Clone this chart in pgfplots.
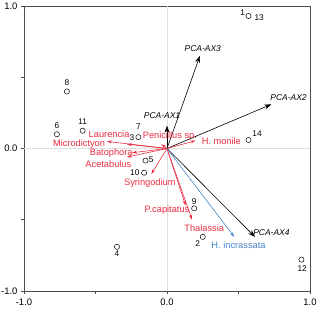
\documentclass[border=0pt]{standalone}
\usepackage{pgfplots}
\pgfplotsset{compat=1.18}
\usepackage{fontspec}
\setmainfont{Liberation Sans}
\usetikzlibrary{arrows.meta}
\definecolor{sred}{RGB}{232,45,65}
\definecolor{sblue}{RGB}{70,130,200}
\begin{document}
\begin{tikzpicture}
\useasboundingbox (-24bp,-19bp) rectangle (296bp,291bp);
\begin{axis}[
  at={(0,0)}, anchor=south west,
  scale only axis, width=286bp, height=285bp,
  xmin=-1, xmax=1, ymin=-1, ymax=1,
  xtick={-1,-0.5,0,0.5,1}, xticklabels={-1.0,,0.0,,1.0},
  ytick={-1,-0.5,0,0.5,1}, yticklabels={-1.0,,0.0,,1.0},
  tick align=outside, xtick pos=bottom, ytick pos=left,
  major tick length=3bp,
  tick style={gray!60!black, line width=0.6pt},
  axis line style={gray!60!black, line width=0.8pt},
  /pgf/number format/assume math mode=true,
  tick label style={font=\fontsize{9.5}{11}\selectfont},
  xticklabel style={yshift=-1bp},
  clip=false,
]
% zero lines
\addplot[gray!25, line width=0.5pt] coordinates {(0,-1) (0,1)};
\addplot[gray!25, line width=0.5pt] coordinates {(-1,0) (1,0)};

% black PCA arrows
\pgfplotsset{blk/.style={black, line width=0.6pt, -{Stealth[length=7bp,width=5bp]}}}
\addplot[blk] coordinates {(0,0) (0.23,0.65)};
\addplot[blk] coordinates {(0,0) (0.73,0.31)};
\addplot[blk] coordinates {(0,0) (0.0,0.16)};
\addplot[blk] coordinates {(0,0) (0.615,-0.62)};

% red species arrows
\pgfplotsset{rd/.style={sred, line width=0.6pt, -{Stealth[length=5bp,width=3bp]}}}
\addplot[rd] coordinates {(0,0) (-0.42,0.05)};
\addplot[rd] coordinates {(0,0) (-0.28,0.03)};
\addplot[rd] coordinates {(0,0) (-0.245,-0.03)};
\addplot[rd] coordinates {(0,0) (-0.28,-0.06)};
\addplot[rd] coordinates {(0,0) (-0.04,0.03)};
\addplot[rd] coordinates {(0,0) (0.20,0.055)};
\addplot[rd] coordinates {(0,0) (-0.11,-0.18)};
\addplot[rd] coordinates {(0,0) (0.13,-0.40)};
\addplot[rd] coordinates {(0,0) (0.175,-0.50)};
\addplot[sblue, line width=0.6pt, -{Stealth[length=5bp,width=3bp]}] coordinates {(0,0) (0.47,-0.62)};

% sample points
\addplot[only marks, mark=o, mark size=2.6bp, black, mark options={line width=0.5pt}] coordinates {
(0.57,0.93) (-0.70,0.40) (-0.77,0.10) (-0.59,0.125) (-0.20,0.08)
(0.57,0.06) (-0.15,-0.085) (-0.16,-0.17) (-0.35,-0.69) (0.19,-0.42)
(0.25,-0.62) (0.94,-0.78)};

% point labels
\begin{scope}[font=\fontsize{8.3}{10}\selectfont, black]
\node at (axis cs:0.53,0.955) {1};
\node at (axis cs:0.645,0.915) {13};
\node at (axis cs:-0.70,0.46) {8};
\node at (axis cs:-0.77,0.16) {6};
\node at (axis cs:-0.59,0.19) {11};
\node at (axis cs:-0.20,0.15) {7};
\node at (axis cs:-0.245,0.075) {3};
\node at (axis cs:0.63,0.105) {14};
\node at (axis cs:-0.11,-0.08) {5};
\node at (axis cs:-0.225,-0.17) {10};
\node at (axis cs:-0.35,-0.74) {4};
\node at (axis cs:0.19,-0.37) {9};
\node at (axis cs:0.215,-0.665) {2};
\node at (axis cs:0.945,-0.84) {12};
\end{scope}

% PCA labels
\begin{scope}[font=\fontsize{8.5}{10}\selectfont\itshape, black]
\node at (axis cs:0.25,0.70) {PCA-AX3};
\node at (axis cs:0.85,0.36) {PCA-AX2};
\node at (axis cs:-0.035,0.23) {PCA-AX1};
\node at (axis cs:0.73,-0.59) {PCA-AX4};
\end{scope}

% species labels
\begin{scope}[font=\fontsize{9.3}{11}\selectfont, text=sred]
\node at (axis cs:-0.405,0.10) {Laurencia};
\node at (axis cs:-0.615,0.03) {Microdictyon};
\node at (axis cs:-0.39,-0.03) {Batophora};
\node at (axis cs:-0.41,-0.11) {Acetabulus};
\node at (axis cs:0.02,0.085) {Penicillus sp.};
\node at (axis cs:0.38,0.05) {H. monile};
\node at (axis cs:-0.12,-0.24) {Syringodium};
\node at (axis cs:0.0,-0.43) {P.capitatus};
\node at (axis cs:0.26,-0.56) {Thalassia};
\node[text=sblue] at (axis cs:0.50,-0.68) {H. incrassata};
\end{scope}
\end{axis}
\end{tikzpicture}
\end{document}
